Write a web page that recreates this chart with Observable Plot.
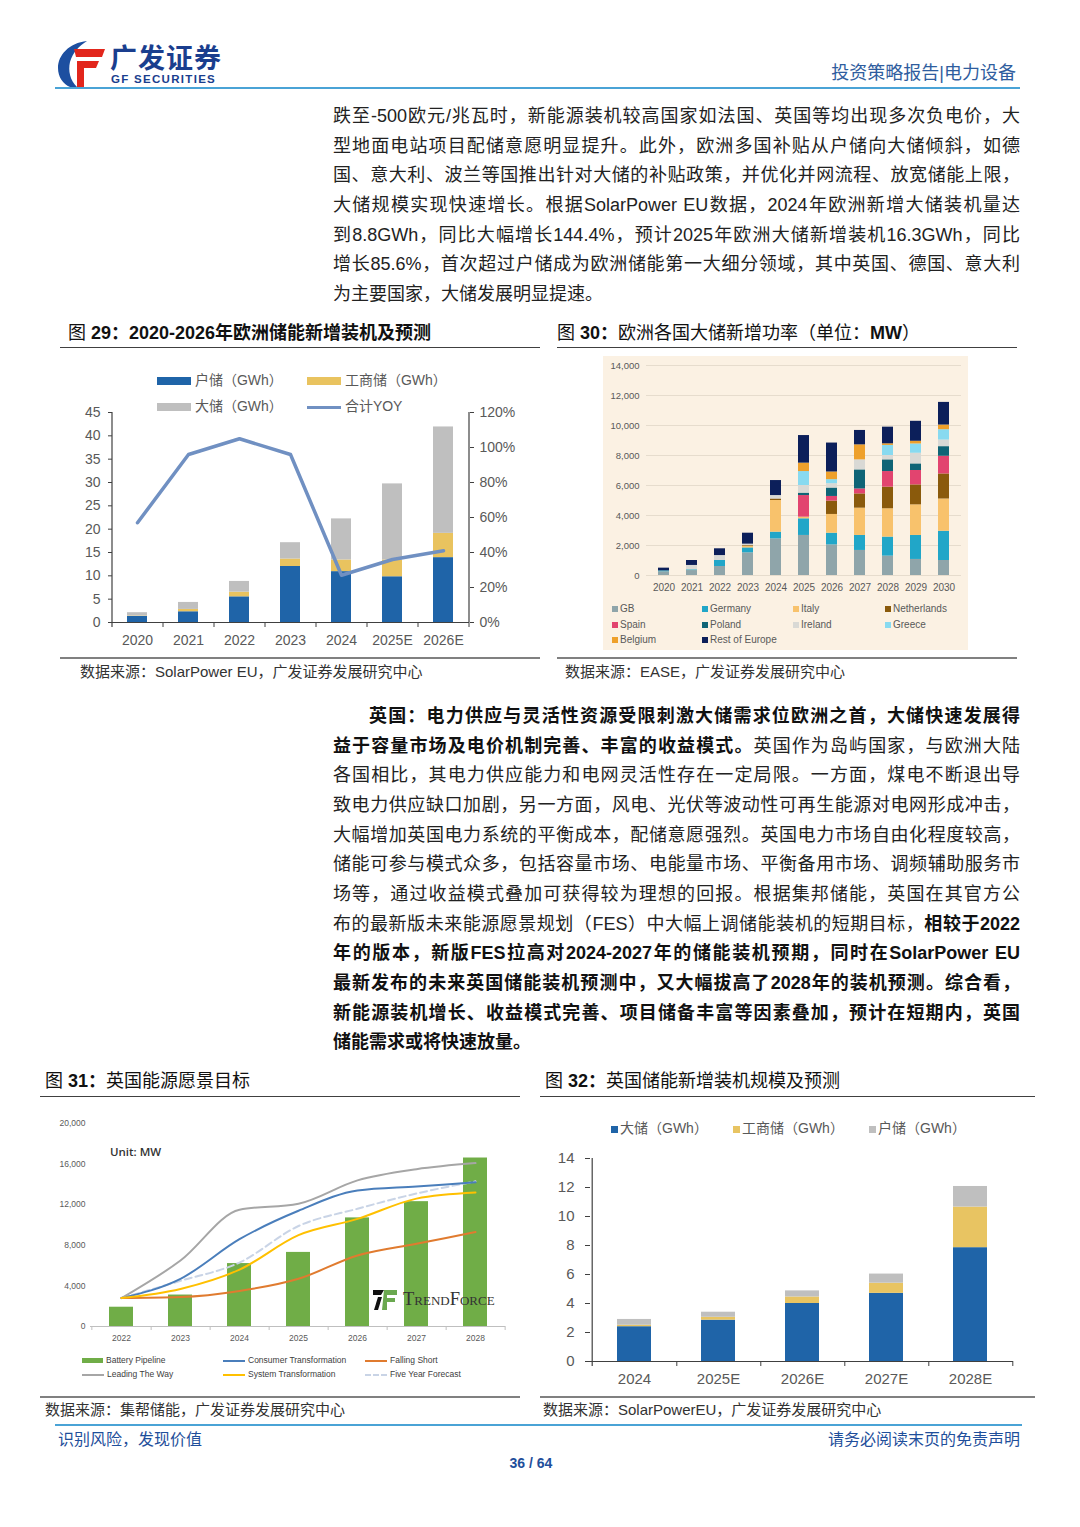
<!DOCTYPE html>
<html><head><meta charset="utf-8">
<script src="https://cdn.jsdelivr.net/npm/d3@7"></script>
<script src="https://cdn.jsdelivr.net/npm/@observablehq/plot@0.6"></script>
<style>
body{margin:0;background:#fff;}
#page{position:relative;width:1080px;height:1527px;overflow:hidden;font-family:"Liberation Sans","Noto Sans CJK SC",sans-serif;color:#222;}
.abs{position:absolute;}
.para{position:absolute;left:333px;width:687px;font-size:18px;color:#222;}
.para .ln{height:29.67px;line-height:29.67px;text-align:justify;text-align-last:justify;}
.para .ln.last{text-align-last:left;}
.para b{font-weight:700;color:#111;}
.ftitle{position:absolute;font-size:18px;color:#111;white-space:nowrap;line-height:24px;}
.ftitle b{font-weight:700;}
.hr{position:absolute;height:0;}
.src{position:absolute;font-size:15px;color:#333;white-space:nowrap;line-height:20px;}
.leg{position:absolute;white-space:nowrap;}
.sw{display:inline-block;vertical-align:middle;}
</style>
</head><body>
<div id="page">
  <!-- header -->
  <svg class="abs" style="left:55px;top:40px" width="52" height="48" viewBox="0 0 52 48">
    <path d="M32 1 C14 3 3 15 3 28 C3 37 8 44 15 47 L22 47 C15 40 13 31 15 22 C18 12 24 6 32 1 Z" fill="#1d4fa0"/>
    <path d="M19 9 H50 L47 17 H21 Z" fill="#e2261c"/>
    <path d="M22 21 H44 L41 28 H22 Z" fill="#e2261c"/>
    <path d="M22 28 H29 V47 H22 Z" fill="#e2261c"/>
  </svg>
  <div class="abs" style="left:110px;top:40px;font-size:27px;font-weight:700;color:#1a3e8e;letter-spacing:1px;font-family:'Noto Sans CJK SC';line-height:34px;">广发证券</div>
  <div class="abs" style="left:111px;top:72px;font-size:11.5px;font-weight:700;color:#1a3e8e;letter-spacing:1.3px;line-height:14px;">GF SECURITIES</div>
  <div class="abs" style="right:64px;top:61px;font-size:18px;color:#2f5d9e;line-height:24px;white-space:nowrap;">投资策略报告|电力设备</div>
  <div class="hr" style="left:55px;top:87px;width:965px;border-top:2px solid #4aa3d6;"></div>

  <!-- paragraph 1 -->
  <div class="para" style="top:102px;">
    <div class="ln">跌至-500欧元/兆瓦时，新能源装机较高国家如法国、英国等均出现多次负电价，大</div>
    <div class="ln">型地面电站项目配储意愿明显提升。此外，欧洲多国补贴从户储向大储倾斜，如德</div>
    <div class="ln">国、意大利、波兰等国推出针对大储的补贴政策，并优化并网流程、放宽储能上限，</div>
    <div class="ln">大储规模实现快速增长。根据SolarPower EU数据，2024年欧洲新增大储装机量达</div>
    <div class="ln">到8.8GWh，同比大幅增长144.4%，预计2025年欧洲大储新增装机16.3GWh，同比</div>
    <div class="ln">增长85.6%，首次超过户储成为欧洲储能第一大细分领域，其中英国、德国、意大利</div>
    <div class="ln last">为主要国家，大储发展明显提速。</div>
  </div>

  <!-- figure titles row 1 -->
  <div class="ftitle" style="left:68px;top:321px;">图 <b>29：2020-2026年欧洲储能新增装机及预测</b></div>
  <div class="hr" style="left:60px;top:347px;width:480px;border-top:1.5px solid #404040;"></div>
  <div class="ftitle" style="left:557px;top:321px;">图 <b>30：</b>欧洲各国大储新增功率（单位：<b>MW</b>）</div>
  <div class="hr" style="left:557px;top:347px;width:460px;border-top:1.5px solid #404040;"></div>

  <!-- chart 29 legend -->
  <div class="leg" style="left:157px;top:370px;font-size:14px;color:#595959;line-height:20px;">
    <span class="sw" style="width:34px;height:8px;background:#1f64a8;"></span> 户储（GWh）
  </div>
  <div class="leg" style="left:307px;top:370px;font-size:14px;color:#595959;line-height:20px;">
    <span class="sw" style="width:34px;height:8px;background:#e9c35f;"></span> 工商储（GWh）
  </div>
  <div class="leg" style="left:157px;top:396px;font-size:14px;color:#595959;line-height:20px;">
    <span class="sw" style="width:34px;height:8px;background:#bfbfbf;"></span> 大储（GWh）
  </div>
  <div class="leg" style="left:307px;top:396px;font-size:14px;color:#595959;line-height:20px;">
    <span class="sw" style="width:34px;height:3.5px;background:#7090c2;"></span> 合计YOY
  </div>
  <div id="c29" class="abs" style="left:60px;top:404px;"></div>
  <div class="hr" style="left:60px;top:657px;width:480px;border-top:2px solid #808080;"></div>
  <div class="src" style="left:80px;top:662px;">数据来源：SolarPower EU，广发证券发展研究中心</div>

  <!-- chart 30 -->
  <div class="abs" style="left:603px;top:356px;width:365px;height:294px;background:#fbf1e3;"></div>
  <div id="c30" class="abs" style="left:603px;top:356px;"></div>
  <div id="c30leg" class="abs" style="left:612px;top:602px;width:350px;font-size:10px;color:#595959;"></div>
  <div class="hr" style="left:557px;top:657px;width:460px;border-top:2px solid #808080;"></div>
  <div class="src" style="left:565px;top:662px;">数据来源：EASE，广发证券发展研究中心</div>

  <!-- paragraph 2 -->
  <div class="para" style="top:702px;">
    <div class="ln" style="padding-left:36px;"><b>英国：电力供应与灵活性资源受限刺激大储需求位欧洲之首，大储快速发展得</b></div>
    <div class="ln"><b>益于容量市场及电价机制完善、丰富的收益模式。</b>英国作为岛屿国家，与欧洲大陆</div>
    <div class="ln">各国相比，其电力供应能力和电网灵活性存在一定局限。一方面，煤电不断退出导</div>
    <div class="ln">致电力供应缺口加剧，另一方面，风电、光伏等波动性可再生能源对电网形成冲击，</div>
    <div class="ln">大幅增加英国电力系统的平衡成本，配储意愿强烈。英国电力市场自由化程度较高，</div>
    <div class="ln">储能可参与模式众多，包括容量市场、电能量市场、平衡备用市场、调频辅助服务市</div>
    <div class="ln">场等，通过收益模式叠加可获得较为理想的回报。根据集邦储能，英国在其官方公</div>
    <div class="ln">布的最新版未来能源愿景规划（FES）中大幅上调储能装机的短期目标，<b>相较于2022</b></div>
    <div class="ln"><b>年的版本，新版FES拉高对2024-2027年的储能装机预期，同时在SolarPower EU</b></div>
    <div class="ln"><b>最新发布的未来英国储能装机预测中，又大幅拔高了2028年的装机预测。综合看，</b></div>
    <div class="ln"><b>新能源装机增长、收益模式完善、项目储备丰富等因素叠加，预计在短期内，英国</b></div>
    <div class="ln last"><b>储能需求或将快速放量。</b></div>
  </div>

  <!-- figure titles row 2 -->
  <div class="ftitle" style="left:45px;top:1069px;">图 <b>31：</b>英国能源愿景目标</div>
  <div class="hr" style="left:40px;top:1096px;width:480px;border-top:1.5px solid #404040;"></div>
  <div class="ftitle" style="left:545px;top:1069px;">图 <b>32：</b>英国储能新增装机规模及预测</div>
  <div class="hr" style="left:540px;top:1096px;width:495px;border-top:1.5px solid #404040;"></div>

  <!-- chart 31 -->
  <div id="c31" class="abs" style="left:40px;top:1112px;"></div>
  <div class="abs" style="left:110px;top:1144px;font-size:11.5px;font-weight:600;color:#333;font-family:'Open Sans','Liberation Sans',sans-serif;">Unit: MW</div>
  <svg class="abs" style="left:372px;top:1289px" width="26" height="22" viewBox="0 0 26 22">
    <path d="M1 1 H12 L9 6 H1 Z" fill="#111"/>
    <path d="M6 8 H10 L6 21 H2 Z" fill="#111"/>
    <path d="M12 1 H25 V6 H15 V9 H23 V13 H15 V21 H10 Z" fill="#6aa84f"/>
  </svg>
  <div class="abs" style="left:403px;top:1288px;font-size:18.5px;color:#333;font-family:'Liberation Serif','DejaVu Serif',serif;font-variant:small-caps;letter-spacing:0px;line-height:22px;">TrendForce</div>
  <div id="c31leg" class="abs" style="left:82px;top:1354px;width:440px;font-size:8.5px;color:#404040;"></div>
  <div class="hr" style="left:40px;top:1396px;width:480px;border-top:2px solid #808080;"></div>
  <div class="src" style="left:45px;top:1400px;">数据来源：集帮储能，广发证券发展研究中心</div>

  <!-- chart 32 -->
  <div id="c32leg" class="abs" style="left:611px;top:1118px;font-size:14px;color:#595959;line-height:20px;white-space:nowrap;"></div>
  <div id="c32" class="abs" style="left:540px;top:1140px;"></div>
  <div class="hr" style="left:540px;top:1396px;width:495px;border-top:2px solid #808080;"></div>
  <div class="src" style="left:543px;top:1400px;">数据来源：SolarPowerEU，广发证券发展研究中心</div>

  <!-- footer -->
  <div class="hr" style="left:55px;top:1424px;width:967px;border-top:2px solid #4aa3d6;"></div>
  <div class="abs" style="left:58px;top:1429px;font-size:16px;color:#1f4f9b;line-height:22px;">识别风险，发现价值</div>
  <div class="abs" style="right:60px;top:1429px;font-size:16px;color:#1f4f9b;line-height:22px;">请务必阅读末页的免责声明</div>
  <div class="abs" style="left:491px;width:80px;text-align:center;top:1454px;font-size:14px;font-weight:700;color:#1f4f9b;line-height:18px;">36 / 64</div>
</div>

<script>
// ---------- Chart 29 data ----------
const c29Years = ["2020","2021","2022","2023","2024","2025E","2026E"];
const c29Home = [1.3, 2.3, 5.5, 12.0, 10.9, 9.8, 13.9];
const c29CI = [0.1, 0.5, 1.0, 1.6, 2.5, 3.6, 5.2];
const c29Utility = [0.7, 1.5, 2.3, 3.5, 8.8, 16.3, 22.8];
const c29Yoy = [57, 96, 105, 96, 27, 36, 41];
const c29Series = ["户储（GWh）", "工商储（GWh）", "大储（GWh）"];
const c29Colors = ["#1f64a8", "#e9c35f", "#bfbfbf"];
const c29LeftTicks = [0,5,10,15,20,25,30,35,40,45];
const c29RightTicks = [0,20,40,60,80,100,120];

// ---------- Chart 30 data ----------
const c30Years = ["2020","2021","2022","2023","2024","2025","2026","2027","2028","2029","2030"];
const c30Countries = ["GB","Germany","Italy","Netherlands","Spain","Poland","Ireland","Greece","Belgium","Rest of Europe"];
const c30Colors = ["#8fa5aa","#21a6c8","#f8c26c","#8a5a0c","#e2446f","#0f6476","#d9d9d5","#88daf0","#eea02b","#0c1f5a"];
const c30GB          = [250, 330, 600, 1510, 2440, 2670, 2040, 1670, 1290, 1070, 1000];
const c30Germany     = [60, 50, 400, 330, 450, 1110, 780, 1000, 1270, 1600, 1950];
const c30Italy       = [0, 0, 0, 100, 2110, 110, 1250, 1820, 1890, 2040, 2150];
const c30Netherlands = [0, 0, 0, 50, 100, 0, 890, 950, 1440, 1330, 1670];
const c30Spain       = [0, 0, 0, 0, 0, 1440, 310, 330, 1040, 960, 1180];
const c30Poland      = [0, 0, 0, 0, 0, 160, 560, 1270, 780, 440, 640];
const c30Ireland     = [0, 290, 330, 100, 230, 510, 290, 670, 290, 710, 440];
const c30Greece      = [0, 0, 0, 0, 0, 930, 270, 0, 670, 620, 690];
const c30Belgium     = [0, 0, 0, 0, 0, 560, 510, 1000, 110, 180, 310];
const c30Rest        = [180, 330, 450, 730, 1000, 1840, 1930, 960, 1110, 1330, 1510];
const c30Ticks = [0,2000,4000,6000,8000,10000,12000,14000];

// ---------- Chart 31 data ----------
const c31Years = ["2022","2023","2024","2025","2026","2027","2028"];
const c31Pipeline = [1900, 3100, 6200, 7300, 10700, 12300, 16600];
const c31Consumer = [2800, 4700, 8600, 11400, 13400, 13800, 14200];
const c31Falling  = [2800, 2900, 3500, 4700, 7000, 8150, 9300];
const c31Leading  = [2800, 6500, 11500, 12100, 14400, 15500, 16100];
const c31System   = [2800, 3700, 5600, 9000, 10600, 12600, 13200];
const c31FiveYear = [2800, 4500, 6300, 9900, 11600, 13100, 14300];
const c31LineNames = ["Consumer Transformation","Falling Short","Leading The Way","System Transformation","Five Year Forecast"];
const c31LineColors = ["#4a7ebb","#e07b2f","#a6a6a6","#ffc000","#c9d4e6"];
const c31Ticks = [0,4000,8000,12000,16000,20000];

// ---------- Chart 32 data ----------
const c32Years = ["2024","2025E","2026E","2027E","2028E"];
const c32Utility = [2.4, 2.85, 4.0, 4.7, 7.85];
const c32CI = [0.1, 0.2, 0.45, 0.7, 2.8];
const c32Home = [0.4, 0.35, 0.42, 0.63, 1.42];
const c32Series = ["大储（GWh）","工商储（GWh）","户储（GWh）"];
const c32Colors = ["#1f64a8","#e8c462","#bfbfbf"];
const c32Ticks = [0,2,4,6,8,10,12,14];

const latin = "'Liberation Sans','Noto Sans CJK SC',sans-serif";

// ---------- Chart 29 ----------
{
  const W = 480, H = 252, mL = 52, mR = 71, mT = 8, mB = 34;
  const half = (W - mL - mR) / c29Years.length / 2;
  const yMax = 45, yoyMax = 120;
  const tickLen = 5 * yMax / (H - mT - mB);
  const long = [];
  c29Years.forEach((yr, i) => {
    long.push({year: yr, series: c29Series[0], value: c29Home[i]});
    long.push({year: yr, series: c29Series[1], value: c29CI[i]});
    long.push({year: yr, series: c29Series[2], value: c29Utility[i]});
  });
  const yoy = c29Years.map((yr, i) => ({year: yr, yoy: c29Yoy[i]}));
  const toLeft = p => p * yMax / yoyMax;
  const axisColor = "#404040";
  const chart = Plot.plot({
    width: W, height: H, marginLeft: mL, marginRight: mR, marginTop: mT, marginBottom: mB,
    style: {background: "transparent", fontFamily: latin, fontSize: "14px", color: "#595959", overflow: "visible"},
    x: {domain: c29Years, paddingInner: 0.6, paddingOuter: 0.3, label: null},
    y: {domain: [0, yMax], label: null},
    color: {domain: c29Series, range: c29Colors},
    marks: [
      Plot.barY(long, {x: "year", y: "value", fill: "series"}),
      Plot.line(yoy, {x: "year", y: d => toLeft(d.yoy), stroke: "#7090c2", strokeWidth: 3.5}),
      Plot.ruleY([0], {stroke: axisColor, strokeWidth: 1.2}),
      Plot.ruleX([c29Years[0]], {y1: -tickLen, y2: yMax, dx: -half, stroke: axisColor, strokeWidth: 1.2}),
      Plot.ruleX([c29Years[c29Years.length - 1]], {y1: 0, y2: yMax, dx: half, stroke: axisColor, strokeWidth: 1.2}),
      Plot.ruleX(c29Years, {y1: 0, y2: -tickLen, dx: half, stroke: axisColor}),
      Plot.axisY({anchor: "left", ticks: c29LeftTicks, tickSize: 4, tickPadding: 8, label: null, stroke: axisColor}),
      Plot.axisY({anchor: "right", ticks: c29RightTicks.map(toLeft), tickFormat: d => Math.round(d * yoyMax / yMax) + "%", tickSize: 4, tickPadding: 6, label: null, stroke: axisColor}),
      Plot.axisX({tickSize: 0, tickPadding: 13, label: null})
    ]
  });
  document.getElementById("c29").appendChild(chart);
}

// ---------- Chart 30 ----------
{
  const W = 365, H = 240, mL = 43, mR = 7, mT = 9, mB = 21;
  const byCountry = [c30GB, c30Germany, c30Italy, c30Netherlands, c30Spain, c30Poland, c30Ireland, c30Greece, c30Belgium, c30Rest];
  const long = [];
  c30Years.forEach((yr, i) => {
    c30Countries.forEach((c, k) => long.push({year: yr, country: c, value: byCountry[k][i]}));
  });
  const chart = Plot.plot({
    width: W, height: H, marginLeft: mL, marginRight: mR, marginTop: mT, marginBottom: mB,
    style: {background: "transparent", fontFamily: latin, fontSize: "9.5px", color: "#595959", overflow: "visible"},
    x: {domain: c30Years, paddingInner: 0.6, paddingOuter: 0.3, label: null},
    y: {domain: [0, 14000], label: null},
    color: {domain: c30Countries, range: c30Colors},
    marks: [
      Plot.gridY({ticks: c30Ticks, stroke: "#e6dccd", strokeOpacity: 1}),
      Plot.barY(long, {x: "year", y: "value", fill: "country"}),
      Plot.axisY({ticks: c30Ticks, tickSize: 0, tickPadding: 7, tickFormat: d3.format(","), label: null}),
      Plot.axisX({tickSize: 0, tickPadding: 8, label: null, fontSize: 10})
    ]
  });
  document.getElementById("c30").appendChild(chart);
  // legend
  const leg = document.getElementById("c30leg");
  const cols = [0, 90, 181, 273];
  c30Countries.forEach((c, k) => {
    const row = Math.floor(k / 4), col = k % 4;
    const d = document.createElement("div");
    d.style.cssText = `position:absolute;left:${cols[col]}px;top:${row * 15.5}px;white-space:nowrap;line-height:14px;`;
    d.innerHTML = `<span class="sw" style="width:6px;height:6px;background:${c30Colors[k]};margin-right:2px;"></span>${c}`;
    leg.appendChild(d);
  });
}

// ---------- Chart 31 ----------
{
  const W = 480, H = 234, mL = 50, mR = 15, mT = 11, mB = 20;
  const half = (W - mL - mR) / c31Years.length / 2;
  const tickLen = 4 * 20000 / (H - mT - mB);
  const bars = c31Years.map((yr, i) => ({year: yr, value: c31Pipeline[i]}));
  const series = [c31Consumer, c31Falling, c31Leading, c31System, c31FiveYear];
  const lines = [];
  c31LineNames.forEach((n, k) => c31Years.forEach((yr, i) => lines.push({year: yr, name: n, value: series[k][i]})));
  const solid = lines.filter(d => d.name !== "Five Year Forecast");
  const dashed = lines.filter(d => d.name === "Five Year Forecast");
  const chart = Plot.plot({
    width: W, height: H, marginLeft: mL, marginRight: mR, marginTop: mT, marginBottom: mB,
    style: {background: "transparent", fontFamily: "'Liberation Sans',sans-serif", fontSize: "8.5px", color: "#595959", overflow: "visible"},
    x: {domain: c31Years, paddingInner: 0.6, paddingOuter: 0.3, label: null},
    y: {domain: [0, 20000], label: null},
    color: {domain: c31LineNames, range: c31LineColors},
    marks: [
      Plot.barY(bars, {x: "year", y: "value", fill: "#70ad47"}),
      Plot.line(dashed, {x: "year", y: "value", z: "name", stroke: "name", strokeWidth: 2, strokeDasharray: "7,4", curve: "monotone-x"}),
      Plot.line(solid, {x: "year", y: "value", z: "name", stroke: "name", strokeWidth: 2, curve: "monotone-x"}),
      Plot.ruleY([0], {stroke: "#bfbfbf", strokeWidth: 1.2}),
      Plot.ruleX([c31Years[0]], {y1: 0, y2: -tickLen, dx: -half, stroke: "#bfbfbf"}),
      Plot.ruleX(c31Years, {y1: 0, y2: -tickLen, dx: half, stroke: "#bfbfbf"}),
      Plot.axisY({ticks: c31Ticks, tickSize: 0, tickPadding: 5, tickFormat: d3.format(","), label: null}),
      Plot.axisX({tickSize: 0, tickPadding: 8, label: null})
    ]
  });
  document.getElementById("c31").appendChild(chart);
  const leg = document.getElementById("c31leg");
  const items = [
    {name: "Battery Pipeline", color: "#70ad47", bar: true, x: 0, y: 0},
    {name: "Consumer Transformation", color: c31LineColors[0], x: 141, y: 0},
    {name: "Falling Short", color: c31LineColors[1], x: 283, y: 0},
    {name: "Leading The Way", color: c31LineColors[2], x: 0, y: 14},
    {name: "System Transformation", color: c31LineColors[3], x: 141, y: 14},
    {name: "Five Year Forecast", color: c31LineColors[4], dashed: true, x: 283, y: 14}
  ];
  items.forEach(it => {
    const d = document.createElement("div");
    d.style.cssText = `position:absolute;left:${it.x}px;top:${it.y}px;white-space:nowrap;line-height:12px;`;
    const sw = it.bar
      ? `<span class="sw" style="width:21px;height:5px;background:${it.color};margin-right:3px;"></span>`
      : it.dashed
        ? `<span class="sw" style="width:22px;height:0;border-top:2px dashed ${it.color};margin-right:3px;"></span>`
        : `<span class="sw" style="width:22px;height:2px;background:${it.color};margin-right:3px;"></span>`;
    d.innerHTML = sw + it.name;
    leg.appendChild(d);
  });
}

// ---------- Chart 32 ----------
{
  const W = 495, H = 250, mL = 50, mR = 22, mT = 18, mB = 29;
  const half = (W - mL - mR) / c32Years.length / 2;
  const yMax = 14;
  const tickLen = 5 * yMax / (H - mT - mB);
  const long = [];
  c32Years.forEach((yr, i) => {
    long.push({year: yr, series: c32Series[0], value: c32Utility[i]});
    long.push({year: yr, series: c32Series[1], value: c32CI[i]});
    long.push({year: yr, series: c32Series[2], value: c32Home[i]});
  });
  const axisColor = "#404040";
  const chart = Plot.plot({
    width: W, height: H, marginLeft: mL, marginRight: mR, marginTop: mT, marginBottom: mB,
    style: {background: "transparent", fontFamily: latin, fontSize: "15px", color: "#595959", overflow: "visible"},
    x: {domain: c32Years, paddingInner: 0.6, paddingOuter: 0.3, label: null},
    y: {domain: [0, yMax], label: null},
    color: {domain: c32Series, range: c32Colors},
    marks: [
      Plot.barY(long, {x: "year", y: "value", fill: "series"}),
      Plot.ruleY([0], {stroke: axisColor, strokeWidth: 1.2}),
      Plot.ruleX([c32Years[0]], {y1: -tickLen, y2: yMax, dx: -half, stroke: axisColor, strokeWidth: 1.2}),
      Plot.ruleX(c32Years, {y1: 0, y2: -tickLen, dx: half, stroke: axisColor}),
      Plot.axisY({ticks: c32Ticks, tickSize: 5, tickPadding: 11, label: null, stroke: axisColor}),
      Plot.axisX({tickSize: 0, tickPadding: 12, label: null})
    ]
  });
  document.getElementById("c32").appendChild(chart);
  const leg = document.getElementById("c32leg");
  const gaps = [0, 122, 258];
  c32Series.forEach((s, k) => {
    const d = document.createElement("div");
    d.style.cssText = `position:absolute;left:${gaps[k]}px;top:0;white-space:nowrap;`;
    d.innerHTML = `<span class="sw" style="width:7px;height:7px;background:${c32Colors[k]};margin-right:2px;"></span>${s}`;
    leg.appendChild(d);
  });
}
</script>
</body></html>
